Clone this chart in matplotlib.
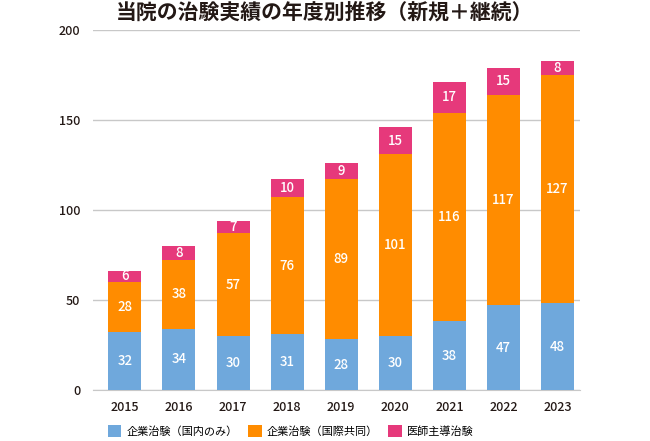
import matplotlib
matplotlib.use("Agg")
import matplotlib.pyplot as plt
import numpy as np

plt.rcParams['font.family'] = ['Noto Sans CJK JP', 'DejaVu Sans']

years = ['2015', '2016', '2017', '2018', '2019', '2020', '2021', '2022', '2023']
domestic = [32, 34, 30, 31, 28, 30, 38, 47, 48]
international = [28, 38, 57, 76, 89, 101, 116, 117, 127]
investigator = [6, 8, 7, 10, 9, 15, 17, 15, 8]
series_names = ['企業治験（国内のみ）', '企業治験（国際共同）', '医師主導治験']
colors = ['#6FA8DC', '#FF8C00', '#E6397B']
title = '当院の治験実績の年度別推移（新規＋継続）'

fig = plt.figure(figsize=(6.5, 4.41), dpi=100)
ax = fig.add_axes([0.143, 0.116, 0.749, 0.816])

x = np.arange(len(years))
w = 0.61
bottom = np.zeros(len(years))
for vals, col, name in zip([domestic, international, investigator], colors, series_names):
    ax.bar(x, vals, w, bottom=bottom, color=col, label=name, zorder=3)
    for xi, b, v in zip(x, bottom, vals):
        ax.text(xi, b + v / 2, str(v), ha='center', va='center', color='white',
                fontsize=9.5, fontweight='medium', zorder=4)
    bottom = bottom + np.array(vals)

ax.set_ylim(0, 200)
ax.set_xlim(-0.59, 8.41)
ax.set_yticks([0, 50, 100, 150, 200])
ax.set_xticks(x)
ax.set_xticklabels(years)
ax.yaxis.grid(True, color='#C8C8C8', linewidth=1, zorder=0)
ax.set_axisbelow(True)
for s in ['top', 'right', 'left']:
    ax.spines[s].set_visible(False)
ax.spines['bottom'].set_color('#C8C8C8')
ax.tick_params(axis='both', length=0, labelsize=9, colors='#231815')
for lbl in ax.get_xticklabels() + ax.get_yticklabels():
    lbl.set_fontweight('medium')
ax.tick_params(axis='y', pad=9)
ax.tick_params(axis='x', pad=8)

fig.text(0.5, 0.973, title, ha='center', va='center', fontsize=15,
         fontweight='bold', color='#231815')

fig.legend(loc='center', bbox_to_anchor=(0.447, 0.022), ncol=3, frameon=False,
           fontsize=8, handlelength=1.25, handleheight=1.25, handletextpad=0.45,
           columnspacing=0.9)

fig.savefig('out.png', dpi=100)
